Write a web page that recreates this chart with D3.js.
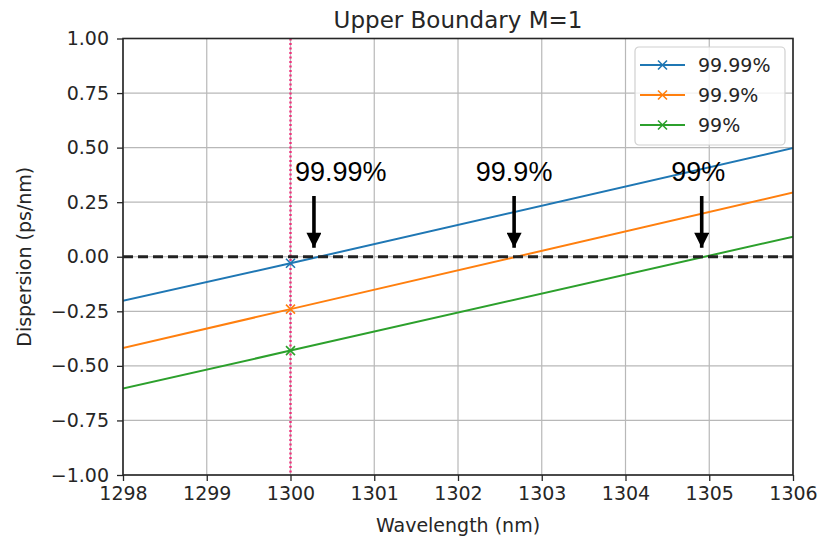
<!DOCTYPE html>
<html>
<head>
<meta charset="utf-8">
<script src="https://cdn.jsdelivr.net/npm/d3@7"></script>
<style>
body { margin: 0; background: #fff; }
svg text { font-family: "DejaVu Sans", sans-serif; }
</style>
</head>
<body>
<div id="chart"></div>
<script>
var width = 819,
	height = 539;

var margin = { top: 38.5, right: 26, bottom: 64, left: 123 };

// wavelength samples (nm) for each series
var wavelengths = [1290, 1300, 1310];
var seriesNames = ["99.99%", "99.9%", "99%"];
var seriesColors = ["#1f77b4", "#ff7f0e", "#2ca02c"];
var disp9999 = [-0.89, -0.03, 0.85];
var disp999 = [-1.13, -0.24, 0.65];
var disp99 = [-1.30, -0.43, 0.44];

var xTicks = [1298, 1299, 1300, 1301, 1302, 1303, 1304, 1305, 1306];
var yTicks = [-1.00, -0.75, -0.50, -0.25, 0.00, 0.25, 0.50, 0.75, 1.00];

// zero crossings pointed at by the arrows, and where the callout text sits
var crossLabels = ["99.99%", "99.9%", "99%"];
var crossAt = [1300.28, 1302.67, 1304.91];
var labelAt = [1300.60, 1302.67, 1304.87];

var series = [disp9999, disp999, disp99].map(function (vals, i) {
	return {
		name: seriesNames[i],
		color: seriesColors[i],
		points: vals.map(function (v, j) { return { x: wavelengths[j], y: v }; })
	};
});

var svg = d3.select("#chart").append("svg")
	.attr("width", width)
	.attr("height", height);

var defs = svg.append("defs");
defs.append("clipPath").attr("id", "plot-clip")
	.append("rect")
	.attr("x", margin.left).attr("y", margin.top)
	.attr("width", width - margin.left - margin.right)
	.attr("height", height - margin.top - margin.bottom);

defs.append("marker")
	.attr("id", "arrow")
	.attr("viewBox", "0 0 10 10")
	.attr("refX", 10).attr("refY", 5)
	.attr("markerUnits", "userSpaceOnUse")
	.attr("markerWidth", 24).attr("markerHeight", 15)
	.attr("orient", "auto")
	.append("path").attr("d", "M0,0 L10,5 L0,10 z").attr("fill", "#000");

var x = d3.scaleLinear()
	.domain([1298, 1306])
	.range([margin.left, width - margin.right]);

var y = d3.scaleLinear()
	.domain([-1, 1])
	.range([height - margin.bottom, margin.top]);

// grid
var grid = svg.append("g").attr("class", "grid");
grid.selectAll("line.gx").data(xTicks).enter().append("line")
	.attr("x1", d => x(d)).attr("x2", d => x(d))
	.attr("y1", y(-1)).attr("y2", y(1))
	.attr("stroke", "#b8b8b8").attr("stroke-width", 1.2);
grid.selectAll("line.gy").data(yTicks).enter().append("line")
	.attr("y1", d => y(d)).attr("y2", d => y(d))
	.attr("x1", x(1298)).attr("x2", x(1306))
	.attr("stroke", "#b8b8b8").attr("stroke-width", 1.2);

var plot = svg.append("g").attr("clip-path", "url(#plot-clip)");

// vertical reference at 1300 nm
plot.append("line")
	.attr("x1", x(1300)).attr("x2", x(1300))
	.attr("y1", y(1)).attr("y2", y(-1))
	.attr("stroke", "#f0307a").attr("stroke-width", 2.4)
	.attr("stroke-dasharray", "2,2.5");

var line = d3.line().x(d => x(d.x)).y(d => y(d.y));

series.forEach(function (s) {
	plot.append("path")
		.datum(s.points)
		.attr("d", line)
		.attr("fill", "none")
		.attr("stroke", s.color)
		.attr("stroke-width", 2);
	plot.selectAll(null).data(s.points).enter().append("path")
		.attr("transform", d => "translate(" + x(d.x) + "," + y(d.y) + ")")
		.attr("d", "M-4.5,-4.5L4.5,4.5M-4.5,4.5L4.5,-4.5")
		.attr("stroke", s.color).attr("stroke-width", 1.6);
});

// zero line
plot.append("line")
	.attr("x1", x(1298)).attr("x2", x(1306))
	.attr("y1", y(0)).attr("y2", y(0))
	.attr("stroke", "#222").attr("stroke-width", 2.8)
	.attr("stroke-dasharray", "10,5");

// axes
var xAxis = d3.axisBottom(x).tickValues(xTicks).tickSize(6).tickPadding(6).tickFormat(d3.format("d"));
var yAxis = d3.axisLeft(y).tickValues(yTicks).tickSize(6).tickPadding(8)
	.tickFormat(d => d3.format(".2f")(d).replace("-", "\u2212"));

var gX = svg.append("g")
	.attr("transform", "translate(0," + y(-1) + ")")
	.call(xAxis);
var gY = svg.append("g")
	.attr("transform", "translate(" + x(1298) + ",0)")
	.call(yAxis);

[gX, gY].forEach(function (g) {
	g.select(".domain").remove();
	g.selectAll(".tick line").attr("stroke", "#262626").attr("stroke-width", 1.3);
	g.selectAll(".tick text").attr("fill", "#262626").style("font-size", "19px");
});

// frame
svg.append("rect")
	.attr("x", x(1298)).attr("y", y(1))
	.attr("width", x(1306) - x(1298)).attr("height", y(-1) - y(1))
	.attr("fill", "none").attr("stroke", "#262626").attr("stroke-width", 1.6);

// annotations
crossLabels.forEach(function (lab, i) {
	var cx = x(crossAt[i]);
	svg.append("text")
		.attr("x", x(labelAt[i])).attr("y", 181)
		.attr("text-anchor", "middle")
		.style("font-family", "Liberation Sans, Arial, sans-serif")
		.style("font-size", "27px")
		.attr("fill", "#000")
		.text(lab);
	svg.append("line")
		.attr("x1", cx).attr("x2", cx)
		.attr("y1", 196).attr("y2", y(0) - 9)
		.attr("stroke", "#000").attr("stroke-width", 3.6)
		.attr("marker-end", "url(#arrow)");
});

// title and labels
svg.append("text")
	.attr("x", (x(1298) + x(1306)) / 2).attr("y", 28)
	.attr("text-anchor", "middle")
	.style("font-size", "23px").attr("fill", "#262626")
	.text("Upper Boundary M=1");

svg.append("text")
	.attr("x", (x(1298) + x(1306)) / 2).attr("y", 532)
	.attr("text-anchor", "middle")
	.style("font-size", "19px").attr("fill", "#262626")
	.text("Wavelength (nm)");

svg.append("text")
	.attr("transform", "translate(31," + y(0) + ") rotate(-90)")
	.attr("text-anchor", "middle")
	.style("font-size", "19px").attr("fill", "#262626")
	.text("Dispersion (ps/nm)");

// legend
var legend = svg.append("g").attr("transform", "translate(635,47)");
legend.append("rect")
	.attr("width", 150).attr("height", 98).attr("rx", 4)
	.attr("fill", "#fff").attr("fill-opacity", 0.8)
	.attr("stroke", "#d0d0d0").attr("stroke-width", 1.2);
series.forEach(function (s, i) {
	var ly = 18 + i * 30;
	legend.append("line")
		.attr("x1", 5).attr("x2", 50).attr("y1", ly).attr("y2", ly)
		.attr("stroke", s.color).attr("stroke-width", 2);
	legend.append("path")
		.attr("transform", "translate(27.5," + ly + ")")
		.attr("d", "M-4.5,-4.5L4.5,4.5M-4.5,4.5L4.5,-4.5")
		.attr("stroke", s.color).attr("stroke-width", 1.6);
	legend.append("text")
		.attr("x", 63).attr("y", ly + 7)
		.style("font-size", "19px").attr("fill", "#262626")
		.text(s.name);
});
</script>
</body>
</html>
